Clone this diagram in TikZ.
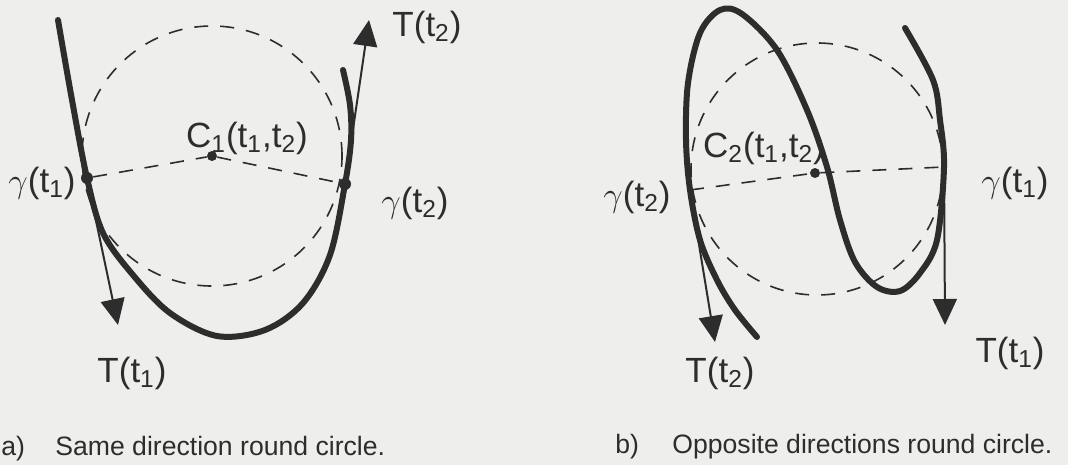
\documentclass[tikz,border=0pt]{standalone}
\usepackage{fontspec}
\setmainfont{Liberation Sans}
\usetikzlibrary{arrows.meta, positioning}
\definecolor{ink}{RGB}{45,45,45}
\definecolor{paper}{RGB}{238,238,236}

\begin{document}
\begin{tikzpicture}[x=0.5pt, y=-0.5pt,
    curve/.style={draw=ink, line width=3pt, line cap=round},
    chord/.style={draw=ink, line width=0.8pt, dash pattern=on 7pt off 6pt},
    tangent/.style={draw=ink, line width=1pt, -{Triangle[length=13pt, width=12pt]}},
    dot/.style={circle, fill=ink, inner sep=0pt, minimum size=6pt},
    lbl/.style={text=ink, font=\fontsize{17.5}{20}\selectfont, inner sep=0pt},
    caption/.style={text=ink, font=\fontsize{13.3}{16}\selectfont, inner sep=0pt}]
\fill[paper] (0,0) rectangle (1068,465);
\useasboundingbox (0,0) rectangle (1068,465);

% a) same direction
\coordinate (c1) at (212,156);
\coordinate (T1a) at (118,325);
\coordinate (T2a) at (369,20);
\draw[chord] (c1) circle[radius=65pt];
\node[dot] (g1a) at (87,178) {};
\node[dot] (g2a) at (345,184) {};
\node[dot, minimum size=5pt] (C1) at (c1) {};
\draw[chord] (g1a) -- (C1) -- (g2a);
\draw[curve] plot[smooth, tension=0.55] coordinates {(58,20) (72,100) (g1a) (103,233) (133,275) (170,313) (217,336) (265,330) (303,303) (330,255) (g2a) (351,140) (350,105) (343,70)};
\draw[tangent] (g1a) -- (T1a);
\draw[tangent] (g2a) -- (T2a);
\node[lbl] (lg1a) at (42,183) {$\gamma$(t\textsubscript{1})};
\node[lbl] (lg2a) at (415,203) {$\gamma$(t\textsubscript{2})};
\node[lbl] (lC1) at (247,138) {C\textsubscript{1}(t\textsubscript{1},t\textsubscript{2})};
\node[lbl] (lT1a) at (132,373) {T(t\textsubscript{1})};
\node[lbl] (lT2a) at (427,27) {T(t\textsubscript{2})};
\node[caption, anchor=base west] (capa) at (1,455) {a)};
\node[caption, anchor=base west] (capa2) at (55,455) {Same direction round circle.};

% b) opposite directions
\coordinate (c2) at (817,169);
\coordinate (T1b) at (945,325);
\coordinate (T2b) at (715,342);
\coordinate (g2b) at (690,190);
\coordinate (g1b) at (944,167);
\draw[chord] (c2) circle[radius=63pt];
\node[dot, minimum size=5pt] (C2) at (815,173) {};
\draw[chord] (g2b) -- (C2) -- (g1b);
\draw[curve] plot[smooth, tension=0.55] coordinates {(757,337) (735,310) (717,280) (700,240) (g2b) (686,140) (688,83) (700,33) (720,10) (742,14) (777,50) (807,110) (827,167) (840,220) (855,262) (877,287) (900,291) (920,273) (937,240) (g1b) (940,120) (933,80) (905,28)};
\draw[tangent] (g1b) -- (T1b);
\draw[tangent] (g2b) -- (T2b);
\node[lbl] (lg2b) at (637,197) {$\gamma$(t\textsubscript{2})};
\node[lbl] (lg1b) at (1015,183) {$\gamma$(t\textsubscript{1})};
\node[lbl] (lC2) at (764,148) {C\textsubscript{2}(t\textsubscript{1},t\textsubscript{2})};
\node[lbl] (lT2b) at (720,373) {T(t\textsubscript{2})};
\node[lbl] (lT1b) at (1010,353) {T(t\textsubscript{1})};
\node[caption, anchor=base west] (capb) at (615,453) {b)};
\node[caption, anchor=base west] (capb2) at (672,453) {Opposite directions round circle.};
\end{tikzpicture}
\end{document}
